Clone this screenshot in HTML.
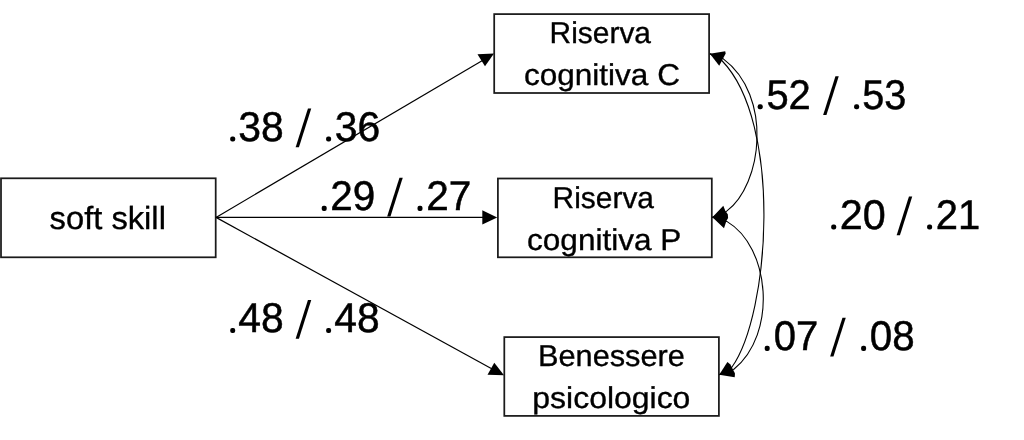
<!DOCTYPE html>
<html><head><meta charset="utf-8"><style>
html,body{margin:0;padding:0;background:#fff;}
svg{display:block;}
text{text-rendering:geometricPrecision;}
.g{will-change:transform;}
text{font-family:"Liberation Sans",sans-serif;fill:#000;}
</style></head><body>
<svg width="1024" height="440" viewBox="0 0 1024 440">
<rect width="1024" height="440" fill="#fff"/>
<g class="g">
<rect x="1.0" y="178.3" width="214.7" height="79.0" fill="none" stroke="#1a1a1a" stroke-width="1.75"/>
<rect x="494.2" y="14.1" width="214.90000000000003" height="78.9" fill="none" stroke="#1a1a1a" stroke-width="1.75"/>
<rect x="497.9" y="178.5" width="213.89999999999998" height="78.80000000000001" fill="none" stroke="#1a1a1a" stroke-width="1.75"/>
<rect x="504.3" y="337.1" width="214.59999999999997" height="78.79999999999995" fill="none" stroke="#1a1a1a" stroke-width="1.75"/>
<line x1="216" y1="217.4" x2="485" y2="59" stroke="#000" stroke-width="1.2"/>
<line x1="216" y1="217.4" x2="485" y2="217.4" stroke="#000" stroke-width="1.2"/>
<line x1="216" y1="217.4" x2="494" y2="370" stroke="#000" stroke-width="1.2"/>
<path d="M709.9 53.7 L723 58.6 C773.11 95.91 762.4 184.5 726.4 211.4 L712.2 217.2" fill="none" stroke="#000" stroke-width="1.1"/>
<path d="M709.9 53.7 L721.8 60.5 C782.45 122.75 770.17 313.26 731.8 367.3 L719.2 374.8" fill="none" stroke="#000" stroke-width="1.1"/>
<path d="M712.2 217.2 L726.8 221.4 C770.27 246.95 777.75 333.64 733.6 369.5 L719.2 374.8" fill="none" stroke="#000" stroke-width="1.1"/>
<polygon points="494,53.6 477.5,54.3 485,66.2" fill="#000"/>
<polygon points="497.2,217.4 482.3,210.2 482.3,224.6" fill="#000"/>
<polygon points="504,375.3 487.5,374.7 494.3,362.7" fill="#000"/>
<polygon points="709.9,53.7 725.2,51.3 725.7,53.5 719.2,65.7" fill="#000"/>
<polygon points="712.4,217.3 723.3,205.75 725.4,210.9 727.8,214.3 728.1,218 726.4,221.1 724,228.2" fill="#000"/>
<polygon points="719.2,374.8 727.4,362 730.4,364.5 735,373.5 734.7,377.3" fill="#000"/>
<text x="49.6" y="229.4" font-size="32" textLength="116.3" lengthAdjust="spacingAndGlyphs" stroke="#000" stroke-width="0.35">soft skill</text>
<text x="549.6" y="43.3" font-size="30" textLength="101.4" lengthAdjust="spacingAndGlyphs" stroke="#000" stroke-width="0.35">Riserva</text>
<text x="524.0" y="85.0" font-size="30" textLength="155.9" lengthAdjust="spacingAndGlyphs" stroke="#000" stroke-width="0.35">cognitiva C</text>
<text x="552.6" y="207.7" font-size="30" textLength="101.4" lengthAdjust="spacingAndGlyphs" stroke="#000" stroke-width="0.35">Riserva</text>
<text x="527.0" y="249.6" font-size="30" textLength="154.4" lengthAdjust="spacingAndGlyphs" stroke="#000" stroke-width="0.35">cognitiva P</text>
<text x="538.0" y="366.3" font-size="30" textLength="146.9" lengthAdjust="spacingAndGlyphs" stroke="#000" stroke-width="0.35">Benessere</text>
<text x="532.3" y="408.0" font-size="30" textLength="158.1" lengthAdjust="spacingAndGlyphs" stroke="#000" stroke-width="0.35">psicologico</text>
<text x="238.3" y="140.9" font-size="41.5" textLength="45.5" lengthAdjust="spacingAndGlyphs" stroke="#000" stroke-width="0.5">38</text>
<text x="334.7" y="140.9" font-size="41.5" textLength="45.5" lengthAdjust="spacingAndGlyphs" stroke="#000" stroke-width="0.5">36</text>
<text x="330.3" y="210.2" font-size="41.5" textLength="45.0" lengthAdjust="spacingAndGlyphs" stroke="#000" stroke-width="0.5">29</text>
<text x="426.2" y="210.2" font-size="41.5" textLength="45.1" lengthAdjust="spacingAndGlyphs" stroke="#000" stroke-width="0.5">27</text>
<text x="238.3" y="332.3" font-size="41.5" textLength="45.5" lengthAdjust="spacingAndGlyphs" stroke="#000" stroke-width="0.5">48</text>
<text x="334.2" y="332.3" font-size="41.5" textLength="45.4" lengthAdjust="spacingAndGlyphs" stroke="#000" stroke-width="0.5">48</text>
<text x="766.4" y="108.6" font-size="41.5" textLength="44.4" lengthAdjust="spacingAndGlyphs" stroke="#000" stroke-width="0.5">52</text>
<text x="862.2" y="108.6" font-size="41.5" textLength="44.1" lengthAdjust="spacingAndGlyphs" stroke="#000" stroke-width="0.5">53</text>
<text x="839.8" y="228.9" font-size="41.5" textLength="46.0" lengthAdjust="spacingAndGlyphs" stroke="#000" stroke-width="0.5">20</text>
<text x="935.7" y="228.9" font-size="41.5" textLength="44.4" lengthAdjust="spacingAndGlyphs" stroke="#000" stroke-width="0.5">21</text>
<text x="773.8" y="350.2" font-size="41.5" textLength="44.5" lengthAdjust="spacingAndGlyphs" stroke="#000" stroke-width="0.5">07</text>
<text x="869.7" y="350.2" font-size="41.5" textLength="44.9" lengthAdjust="spacingAndGlyphs" stroke="#000" stroke-width="0.5">08</text>
<rect x="230.20" y="136.50" width="5.0" height="5.1" rx="2.0" fill="#000"/>
<rect x="326.10" y="136.50" width="5.0" height="5.1" rx="2.0" fill="#000"/>
<polygon points="307.95,108.50 311.25,108.50 298.95,147.30 295.65,147.30" fill="#000"/>
<rect x="321.70" y="205.80" width="5.0" height="5.1" rx="2.0" fill="#000"/>
<rect x="417.50" y="205.80" width="5.0" height="5.1" rx="2.0" fill="#000"/>
<polygon points="399.45,177.80 402.75,177.80 390.45,216.60 387.15,216.60" fill="#000"/>
<rect x="230.20" y="327.90" width="5.0" height="5.1" rx="2.0" fill="#000"/>
<rect x="326.10" y="327.90" width="5.0" height="5.1" rx="2.0" fill="#000"/>
<polygon points="307.95,299.90 311.25,299.90 298.95,338.70 295.65,338.70" fill="#000"/>
<rect x="757.70" y="104.20" width="5.0" height="5.1" rx="2.0" fill="#000"/>
<rect x="854.10" y="104.20" width="5.0" height="5.1" rx="2.0" fill="#000"/>
<polygon points="835.45,76.20 838.75,76.20 826.45,115.00 823.15,115.00" fill="#000"/>
<rect x="831.20" y="224.50" width="5.0" height="5.1" rx="2.0" fill="#000"/>
<rect x="927.10" y="224.50" width="5.0" height="5.1" rx="2.0" fill="#000"/>
<polygon points="908.95,196.50 912.25,196.50 899.95,235.30 896.65,235.30" fill="#000"/>
<rect x="764.70" y="345.80" width="5.0" height="5.1" rx="2.0" fill="#000"/>
<rect x="861.10" y="345.80" width="5.0" height="5.1" rx="2.0" fill="#000"/>
<polygon points="842.45,317.80 845.75,317.80 833.45,356.60 830.15,356.60" fill="#000"/>
</g>
</svg>
</body></html>
